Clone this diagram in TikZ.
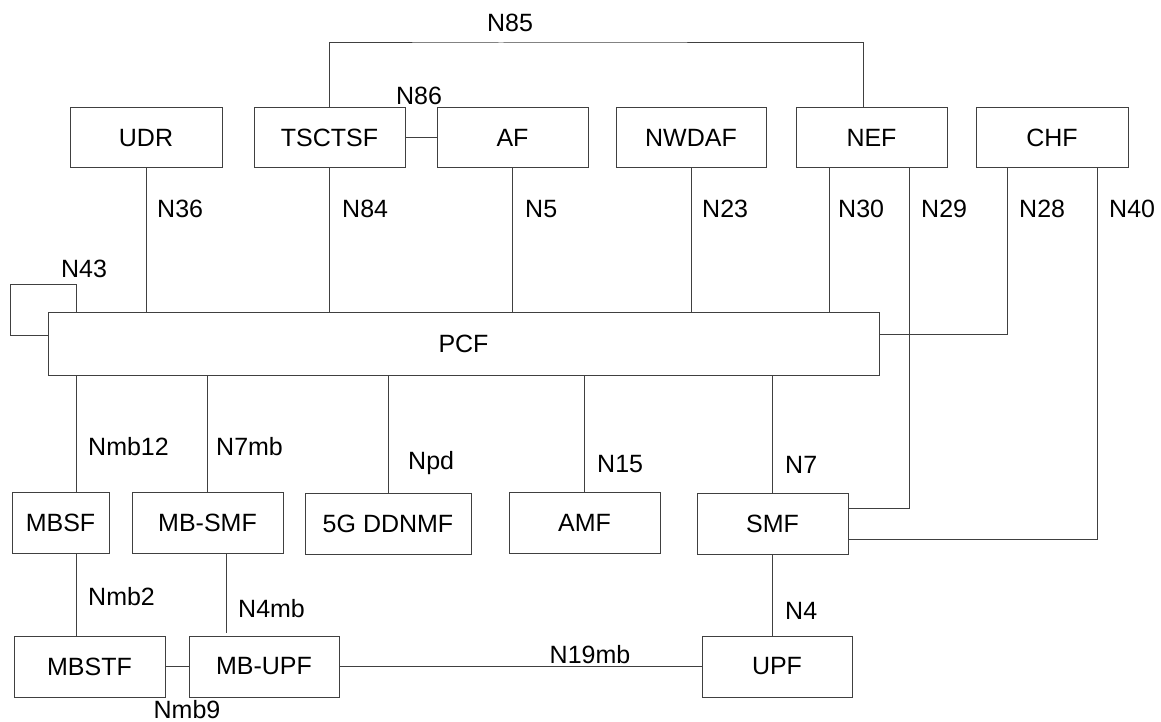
\documentclass[tikz,border=0pt]{standalone}
\usepackage{fontspec}
\setmainfont{Liberation Sans}
\begin{document}
\begin{tikzpicture}[x=1pt,y=-1pt,
  every node/.style={font=\fontsize{25}{30}\selectfont},
  box/.style={draw=black!75, line width=1pt, inner sep=0pt, minimum height=61pt},
  lbl/.style={inner sep=0pt, text depth=0pt, anchor=west},
  clbl/.style={inner sep=0pt, text depth=0pt},
  link/.style={draw=black!75, line width=1pt}]
\useasboundingbox (0,0) rectangle (1161,722);
% top row
\node[box, minimum width=152pt, minimum height=60pt] (UDR) at (146,138) {UDR};
\node[box, minimum width=151pt, minimum height=60pt] (TSCTSF) at (329.5,138) {TSCTSF};
\node[box, minimum width=151pt, minimum height=60pt] (AF) at (512.5,138) {AF};
\node[box, minimum width=150pt, minimum height=60pt] (NWDAF) at (691,138) {NWDAF};
\node[box, minimum width=151pt, minimum height=60pt] (NEF) at (871.5,138) {NEF};
\node[box, minimum width=152pt, minimum height=60pt] (CHF) at (1052,138) {CHF};
% PCF
\node[box, minimum width=831pt, minimum height=63pt] (PCF) at (463.5,343.5) {PCF};
% second row
\node[box, minimum width=97pt] (MBSF) at (60.5,523) {MBSF};
\node[box, minimum width=151pt] (MBSMF) at (207.5,523) {MB-SMF};
\node[box, minimum width=166pt] (DDNMF) at (388,523.5) {5G DDNMF};
\node[box, minimum width=151pt] (AMF) at (584.5,523) {AMF};
\node[box, minimum width=151pt] (SMF) at (772.5,523.5) {SMF};
% third row
\node[box, minimum width=151pt] (MBSTF) at (89.5,666.5) {MBSTF};
\node[box, minimum width=150pt] (MBUPF) at (264,666.5) {MB-UPF};
\node[box, minimum width=150pt] (UPF) at (777,666.5) {UPF};
% helper coordinates
\coordinate (c76) at (76,0);
\coordinate (c226) at (226,0);
\coordinate (c829) at (829,0);
\coordinate (c863) at (863,0);
\coordinate (c909) at (909,0);
\coordinate (c1007) at (1007,0);
\coordinate (c1097) at (1097,0);
\coordinate (c85) at (500,43);
\coordinate (c43) at (10,284);
% connectors
\draw[link] (TSCTSF.north) |- (c85) -| (NEF.north -| c863);
\draw[link] (TSCTSF.east) -- (AF.west);
\draw[link] (UDR.south) -- (UDR.south |- PCF.north);
\draw[link] (TSCTSF.south) -- (TSCTSF.south |- PCF.north);
\draw[link] (AF.south) -- (AF.south |- PCF.north);
\draw[link] (NWDAF.south) -- (NWDAF.south |- PCF.north);
\draw[link] (NEF.south -| c829) -- (PCF.north -| c829);
\draw[link] (NEF.south -| c909) |- ([yshift=15pt]SMF.east);
\draw[link] (CHF.south -| c1007) |- ([yshift=9.5pt]PCF.east);
\draw[link] (CHF.south -| c1097) |- ([yshift=-16pt]SMF.east);
\draw[link] (PCF.north -| c76) |- (c43) |- ([yshift=8.5pt]PCF.west);
\draw[link] (PCF.south -| c76) -- (MBSF.north -| c76);
\draw[link] (PCF.south -| MBSMF.north) -- (MBSMF.north);
\draw[link] (PCF.south -| DDNMF.north) -- (DDNMF.north);
\draw[link] (PCF.south -| AMF.north) -- (AMF.north);
\draw[link] (PCF.south -| SMF.north) -- (SMF.north);
\draw[link] (MBSF.south -| c76) -- (MBSTF.north -| c76);
\draw[link, shorten >=3pt] (MBSMF.south -| c226) -- (MBUPF.north -| c226);
\draw[link] (SMF.south) -- (SMF.south |- UPF.north);
\draw[link] (MBSTF.east) -- (MBUPF.west);
\draw[link] (MBUPF.east) -- (UPF.west);
% labels
\node[clbl] (lN85) at (510,23) {N85};
\node[clbl] (lN86) at (419,96) {N86};
\node[clbl] (lN43) at (84,269) {N43};
\node[lbl] (lN36) at (157,209) {N36};
\node[lbl] (lN84) at (342,209) {N84};
\node[lbl] (lN5) at (525,209) {N5};
\node[lbl] (lN23) at (702,209) {N23};
\node[lbl] (lN30) at (838,209) {N30};
\node[lbl] (lN29) at (921,209) {N29};
\node[lbl] (lN28) at (1019,209) {N28};
\node[lbl] (lN40) at (1109,209) {N40};
\node[lbl] (lNmb12) at (88,446) {Nmb12};
\node[lbl] (lN7mb) at (216,446) {N7mb};
\node[lbl] (lNpd) at (408,460) {Npd};
\node[lbl] (lN15) at (597,464) {N15};
\node[lbl] (lN7) at (785,465) {N7};
\node[lbl] (lNmb2) at (88,596) {Nmb2};
\node[lbl] (lN4mb) at (238,608) {N4mb};
\node[lbl] (lN4) at (785,611) {N4};
\node[clbl] (lN19mb) at (590,654) {N19mb};
\node[clbl] (lNmb9) at (187,709) {Nmb9};
\end{tikzpicture}
\end{document}
